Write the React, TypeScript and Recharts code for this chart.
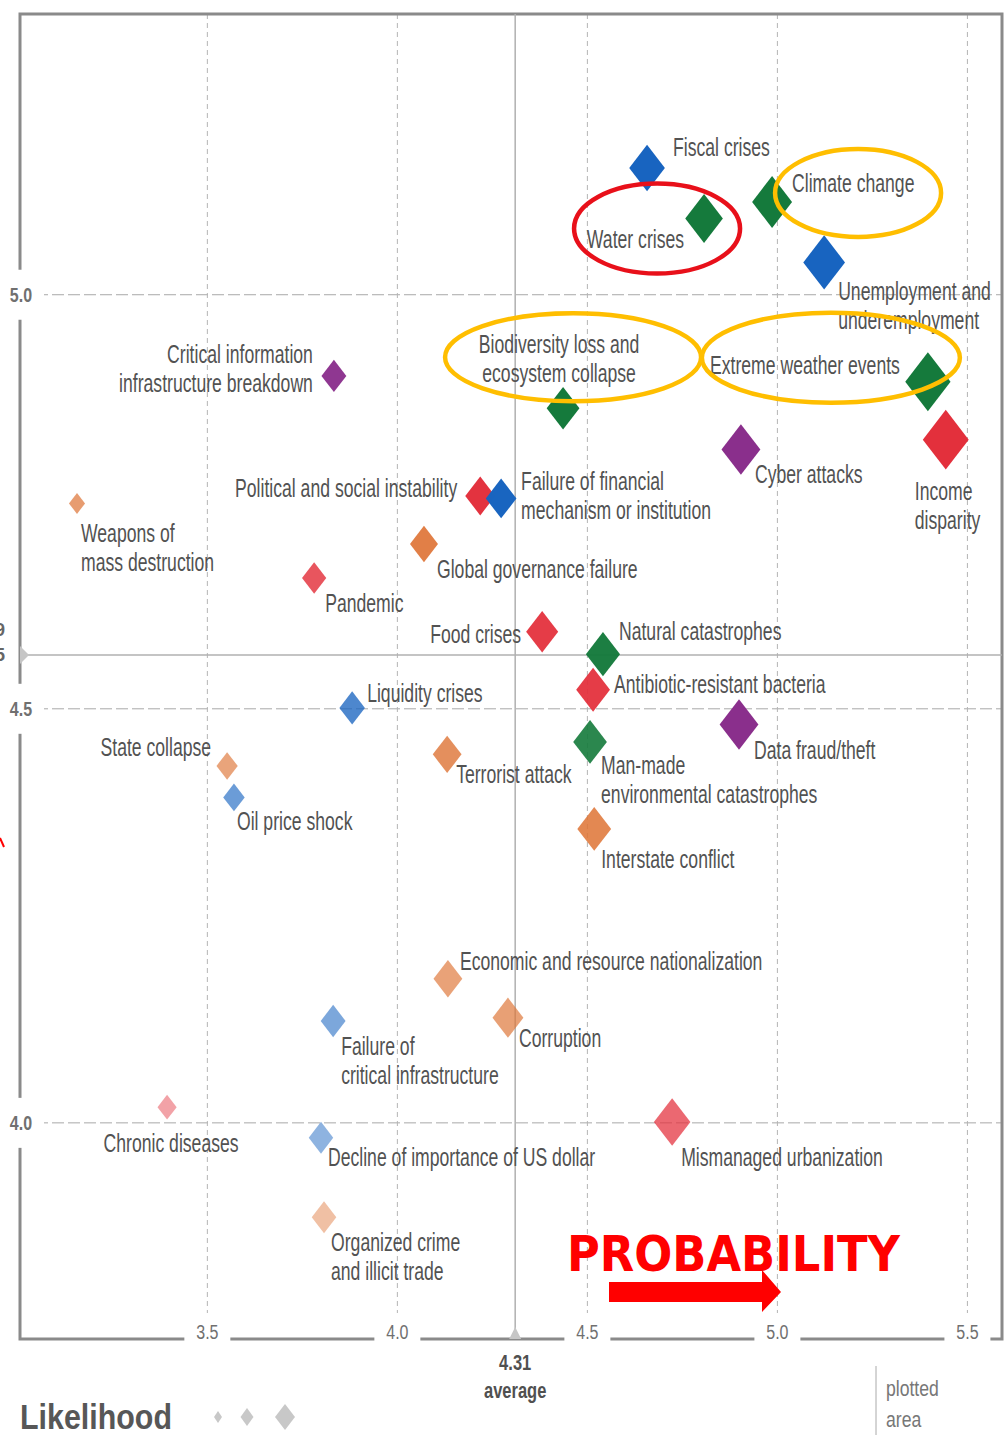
import React from "react";
import {
  ScatterChart,
  Scatter,
  XAxis,
  YAxis,
  ZAxis,
  CartesianGrid,
  ReferenceLine,
  ReferenceArea,
} from "recharts";

// global risks: likelihood (x) vs impact (y)
const riskNames = [
  "Fiscal crises",
  "Water crises",
  "Climate change",
  "Unemployment and\nunderemployment",
  "Extreme weather events",
  "Income\ndisparity",
  "Cyber attacks",
  "Biodiversity loss and\necosystem collapse",
  "Critical information\ninfrastructure breakdown",
  "Political and social instability",
  "Failure of financial\nmechanism or institution",
  "Weapons of\nmass destruction",
  "Global governance failure",
  "Pandemic",
  "Food crises",
  "Natural catastrophes",
  "Antibiotic-resistant bacteria",
  "Data fraud/theft",
  "Man-made\nenvironmental catastrophes",
  "Liquidity crises",
  "Terrorist attack",
  "State collapse",
  "Oil price shock",
  "Interstate conflict",
  "Economic and resource nationalization",
  "Corruption",
  "Failure of\ncritical infrastructure",
  "Chronic diseases",
  "Decline of importance of US dollar",
  "Mismanaged urbanization",
  "Organized crime\nand illicit trade",
];

const likelihood = [
  4.657, 4.807, 4.986, 5.123, 5.396, 5.443, 4.904, 4.436, 3.833, 4.218, 4.273,
  3.157, 4.07, 3.781, 4.381, 4.541, 4.515, 4.899, 4.507, 3.881, 4.131, 3.552,
  3.57, 4.518, 4.133, 4.291, 3.831, 3.394, 3.799, 4.723, 3.807,
];

const impact = [
  5.153, 5.092, 5.112, 5.039, 4.895, 4.825, 4.813, 4.863, 4.902, 4.757, 4.754,
  4.748, 4.699, 4.658, 4.593, 4.566, 4.523, 4.481, 4.46, 4.501, 4.445, 4.431,
  4.393, 4.355, 4.174, 4.127, 4.123, 4.019, 3.982, 4.001, 3.886,
];

const riskGroup = [
  "economic", "environmental", "environmental", "economic", "environmental",
  "societal", "technological", "environmental", "technological", "societal",
  "economic", "geopolitical", "geopolitical", "societal", "societal",
  "environmental", "societal", "technological", "environmental", "economic",
  "geopolitical", "geopolitical", "economic", "geopolitical", "geopolitical",
  "geopolitical", "economic", "societal", "economic", "societal", "geopolitical",
];

const xTicks = [3.5, 4.0, 4.5, 5.0, 5.5];
const yTicks = [4.0, 4.5, 5.0];
const xDomain = [3.007, 5.591];
const yDomain = [3.739, 5.339];
const avgLikelihood = 4.31;
const avgImpact = 4.565;

const groupColors: Record<string, string> = {
  economic: "#1864c0",
  environmental: "#157a3c",
  geopolitical: "#de7436",
  societal: "#e3303c",
  technological: "#8a2f8c",
};

// label placement per point: [text-anchor, dx, dy]
const labelLayout: [string, number, number][] = [
  ["start", 26, -21],
  ["end", -20, 20],
  ["start", 20, -19],
  ["start", 14, 29],
  ["end", -28, -17],
  ["start", -31, 51],
  ["start", 14, 24],
  ["middle", -4, -64],
  ["end", -21, -22],
  ["end", -23, -8],
  ["start", 20, -17],
  ["start", 4, 30],
  ["start", 13, 25],
  ["start", 11, 25],
  ["end", -21, 2],
  ["start", 16, -23],
  ["start", 21, -6],
  ["start", 15, 25],
  ["start", 11, 23],
  ["start", 15, -15],
  ["start", 9, 20],
  ["end", -16, -19],
  ["start", 3, 24],
  ["start", 7, 30],
  ["start", 12, -18],
  ["start", 11, 20],
  ["start", 8, 25],
  ["middle", 4, 36],
  ["start", 7, 19],
  ["start", 9, 35],
  ["start", 7, 25],
];

// hand-drawn rings around some labels
const highlights: Record<string, { color: string; dx: number; dy: number; rx: number; ry: number }> = {
  "Water crises": { color: "#e8101a", dx: -47, dy: 10, rx: 83, ry: 45 },
  "Climate change": { color: "#ffbe00", dx: 86, dy: -9, rx: 83, ry: 44 },
  "Biodiversity loss and\necosystem collapse": { color: "#ffbe00", dx: 10, dy: -51, rx: 128, ry: 44 },
  "Extreme weather events": { color: "#ffbe00", dx: -97, dy: -24, rx: 129, ry: 45 },
};

const points = riskNames.map((name, i) => ({
  idx: i,
  name,
  likelihood: likelihood[i],
  impact: impact[i],
  group: riskGroup[i],
}));

const sans = '"Liberation Sans", Arimo, Arial, sans-serif';
const LINE_H = 29;

// condensed text: regular sans squeezed horizontally
function NarrowText({
  x,
  y,
  lines,
  anchor = "start",
  size = 25,
  fill = "#525252",
  weight = "normal",
  squeeze = 0.705,
  lineH = LINE_H,
}: any) {
  return (
    <text
      transform={`translate(${x},${y}) scale(${squeeze},1)`}
      x={0}
      y={0}
      textAnchor={anchor}
      fontSize={size}
      fontWeight={weight}
      fill={fill}
      fontFamily={sans}
    >
      {lines.map((l: string, i: number) => (
        <tspan key={i} x={0} dy={i === 0 ? 0 : lineH}>
          {l}
        </tspan>
      ))}
    </text>
  );
}

function Diamond(props: any) {
  const { cx, cy, size, width, payload } = props;
  if (cx == null || cy == null) return <g />;
  const hw = typeof size === "number" ? size : Math.PI * Math.pow((width || 16) / 2, 2);
  const hh = hw * 1.3;
  const shade = 0.3 + 0.5 * (payload.impact - 3.9) + 0.25 * (payload.likelihood - 3.2);
  const op = Math.max(0.45, Math.min(1, shade));
  return (
    <path
      d={`M${cx},${cy - hh}L${cx + hw},${cy}L${cx},${cy + hh}L${cx - hw},${cy}Z`}
      fill={groupColors[payload.group]}
      fillOpacity={op}
    />
  );
}

function RiskLabel(props: any) {
  const { cx, cy, payload } = props;
  const spec = labelLayout[payload.idx];
  if (!spec || cx == null) return <g />;
  const [anchor, dx, dy] = spec;
  return <NarrowText x={cx + dx} y={cy + dy + 9} anchor={anchor} lines={payload.name.split("\n")} />;
}

function Ring(props: any) {
  const { cx, cy, payload } = props;
  const h = highlights[payload.name];
  if (!h || cx == null) return <g />;
  return (
    <ellipse
      cx={cx + h.dx}
      cy={cy + h.dy}
      rx={h.rx}
      ry={h.ry}
      fill="none"
      stroke={h.color}
      strokeWidth={4.5}
    />
  );
}

function XTick(props: any) {
  const { x, y, payload } = props;
  return (
    <g>
      <rect x={x - 23} y={y - 26} width={46} height={30} fill="#fff" />
      <NarrowText x={x} y={y} anchor="middle" size={20} squeeze={0.8} fill="#707070" lines={[payload.value.toFixed(1)]} />
    </g>
  );
}

function YTick(props: any) {
  const { x, y, payload } = props;
  return (
    <g>
      <rect x={x - 20} y={y - 25} width={44} height={50} fill="#fff" />
      <NarrowText x={x + 1} y={y + 7} anchor="middle" size={20} squeeze={0.8} weight="bold" fill="#707070" lines={[payload.value.toFixed(1)]} />
    </g>
  );
}

function AvgXLabel(props: any) {
  const vb = props.viewBox;
  if (!vb) return null;
  const x = vb.x;
  const bottom = vb.y + vb.height;
  return (
    <g>
      <path d={`M${x - 6},${bottom}L${x},${bottom - 12}L${x + 6},${bottom}Z`} fill="#c6c6c6" />
      <NarrowText x={x} y={bottom + 31} anchor="middle" size={22} squeeze={0.75} weight="bold" fill="#505050" lines={[avgLikelihood.toFixed(2)]} />
      <NarrowText x={x} y={bottom + 59} anchor="middle" size={22} squeeze={0.75} weight="bold" fill="#505050" lines={["average"]} />
    </g>
  );
}

function AvgYLabel(props: any) {
  const vb = props.viewBox;
  if (!vb) return null;
  const x = vb.x;
  const y = vb.y;
  return (
    <g>
      <path d={`M${x},${y - 9}L${x + 9},${y}L${x},${y + 9}Z`} fill="#c6c6c6" />
      <text x={x - 25} y={y - 19} fontSize={18} fontWeight="bold" fill="#666" fontFamily={sans}>9</text>
      <text x={x - 25} y={y + 6} fontSize={18} fontWeight="bold" fill="#666" fontFamily={sans}>5</text>
    </g>
  );
}

export default function App() {
  return (
    <div style={{ position: "absolute", left: 0, top: 0, width: 1006, height: 1435, background: "#fff" }}>
      <ScatterChart width={1006} height={1435} margin={{ top: 14, right: 4, bottom: 95, left: 19 }}>
        <CartesianGrid horizontal vertical={false} stroke="#a8a8a8" strokeDasharray="12 4" />
        <CartesianGrid vertical horizontal={false} stroke="#b4b4b4" strokeDasharray="5 4" />
        <ReferenceArea
          x1={xDomain[0]}
          x2={xDomain[1]}
          y1={yDomain[0]}
          y2={yDomain[1]}
          fill="none"
          fillOpacity={0}
          stroke="#8a8a8a"
          strokeWidth={3}
        />
        <ReferenceLine x={avgLikelihood} stroke="#b0b0b0" strokeWidth={1.5} label={<AvgXLabel />} />
        <ReferenceLine y={avgImpact} stroke="#b0b0b0" strokeWidth={1.5} label={<AvgYLabel />} />
        <XAxis
          type="number"
          dataKey="likelihood"
          domain={xDomain}
          allowDataOverflow
          ticks={xTicks}
          height={1}
          axisLine={false}
          tickLine={false}
          tickSize={0}
          tickMargin={0}
          tick={<XTick />}
          interval={0}
        />
        <YAxis
          type="number"
          dataKey="impact"
          domain={yDomain}
          allowDataOverflow
          ticks={yTicks}
          width={1}
          axisLine={false}
          tickLine={false}
          tickSize={0}
          tickMargin={0}
          tick={<YTick />}
          interval={0}
        />
        <ZAxis type="number" dataKey="likelihood" domain={[3.15, 5.45]} range={[8, 23]} />
        <Scatter data={points} shape={Diamond} isAnimationActive={false} />
        <Scatter data={points} shape={RiskLabel} isAnimationActive={false} />
        <Scatter data={points} shape={Ring} isAnimationActive={false} />
      </ScatterChart>

      <svg
        width={1006}
        height={1435}
        style={{ position: "absolute", left: 0, top: 0, pointerEvents: "none" }}
      >
        {/* cut-off red mark at the left edge */}
        <line x1={0} y1={838} x2={4} y2={847} stroke="#f00" strokeWidth={2} />
        {/* probability annotation */}
        <text
          x={567}
          y={1271}
          fontSize={50}
          fontWeight="bold"
          fill="#ff0000"
          fontFamily='"DejaVu Sans", sans-serif'
          textLength={333}
          lengthAdjust="spacingAndGlyphs"
        >
          PROBABILITY
        </text>
        <path d="M609,1282L762,1282L762,1270L781,1292L762,1312L762,1302L609,1302Z" fill="#ff0000" />
        {/* likelihood legend */}
        <text x={20} y={1429} fontSize={35} fontWeight="bold" fill="#575757" fontFamily={sans} textLength={152} lengthAdjust="spacingAndGlyphs">
          Likelihood
        </text>
        <path d="M218,1411L222,1417L218,1423L214,1417Z" fill="#c8c8c8" />
        <path d="M247,1408L253.5,1417L247,1426L240.5,1417Z" fill="#c8c8c8" />
        <path d="M285,1404L295,1417L285,1430L275,1417Z" fill="#c8c8c8" />
        {/* plotted area note */}
        <line x1={876} y1={1366} x2={876} y2={1435} stroke="#aaa" strokeWidth={1} />
        <NarrowText x={886} y={1396} size={22} squeeze={0.8} fill="#777" lines={["plotted"]} />
        <NarrowText x={886} y={1427} size={22} squeeze={0.8} fill="#777" lines={["area"]} />
      </svg>
    </div>
  );
}
